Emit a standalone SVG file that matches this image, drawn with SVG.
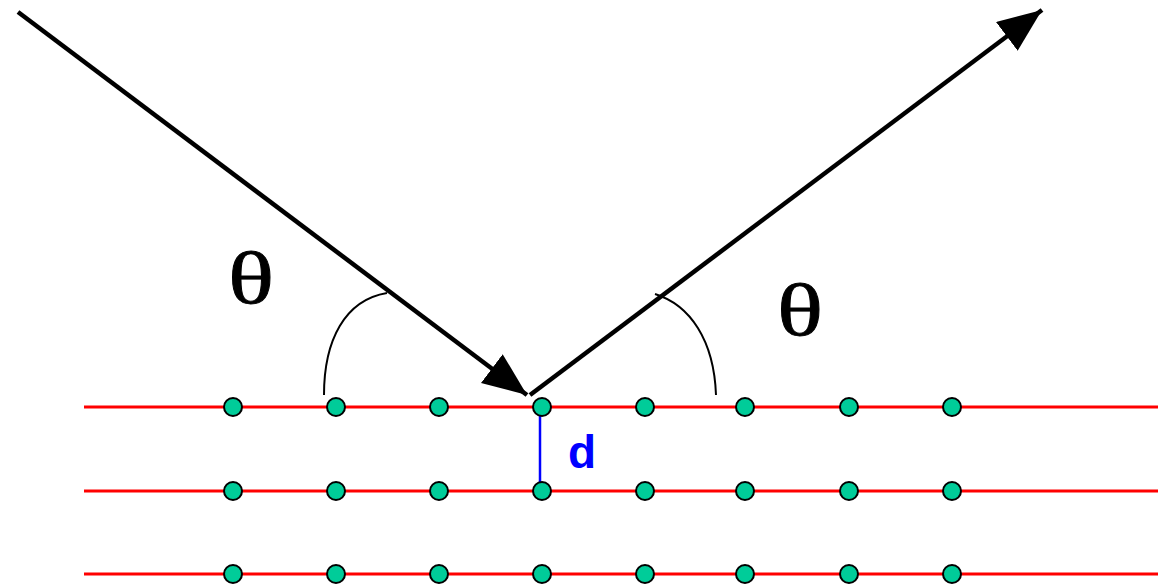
<svg xmlns="http://www.w3.org/2000/svg" width="1158" height="585" viewBox="0 0 1158 585">
<style>
.plane{stroke:#ff0000;stroke-width:3}
.atom{fill:#00cc99;stroke:#000;stroke-width:2}
.ray{stroke:#000;stroke-width:4.5;fill:none}
.arc{stroke:#000;stroke-width:2;fill:none}
.theta{font-family:"Liberation Serif",serif;font-size:74px;fill:#000;stroke:#000;stroke-width:0.8}
</style>
<defs>
<marker id="head" markerUnits="userSpaceOnUse" markerWidth="50" markerHeight="40" refX="44" refY="18" orient="auto">
<path d="M0,0 L44,18 L0,36 Z" fill="#000"/>
</marker>
</defs>
<rect width="1158" height="585" fill="#fff"/>
<g id="planes">
<line class="plane" x1="84" y1="407" x2="1158" y2="407"/>
<line class="plane" x1="84" y1="491" x2="1158" y2="491"/>
<line class="plane" x1="84" y1="574" x2="1158" y2="574"/>
</g>
<g id="spacing">
<line x1="540" y1="410" x2="540" y2="490" stroke="#0000ff" stroke-width="2.5"/>
<text x="568" y="468" font-family="Liberation Sans,sans-serif" font-weight="bold" font-size="46" fill="#0000ff">d</text>
</g>
<g id="atoms">
<g id="row1">
<circle class="atom" cx="233" cy="407" r="9"/><circle class="atom" cx="336" cy="407" r="9"/><circle class="atom" cx="439" cy="407" r="9"/><circle class="atom" cx="542" cy="407" r="9"/><circle class="atom" cx="645" cy="407" r="9"/><circle class="atom" cx="745" cy="407" r="9"/><circle class="atom" cx="849" cy="407" r="9"/><circle class="atom" cx="952" cy="407" r="9"/>
</g>
<g id="row2">
<circle class="atom" cx="233" cy="491" r="9"/><circle class="atom" cx="336" cy="491" r="9"/><circle class="atom" cx="439" cy="491" r="9"/><circle class="atom" cx="542" cy="491" r="9"/><circle class="atom" cx="645" cy="491" r="9"/><circle class="atom" cx="745" cy="491" r="9"/><circle class="atom" cx="849" cy="491" r="9"/><circle class="atom" cx="952" cy="491" r="9"/>
</g>
<g id="row3">
<circle class="atom" cx="233" cy="574" r="9"/><circle class="atom" cx="336" cy="574" r="9"/><circle class="atom" cx="439" cy="574" r="9"/><circle class="atom" cx="542" cy="574" r="9"/><circle class="atom" cx="645" cy="574" r="9"/><circle class="atom" cx="745" cy="574" r="9"/><circle class="atom" cx="849" cy="574" r="9"/><circle class="atom" cx="952" cy="574" r="9"/>
</g>
</g>
<g id="connectors">
<line class="ray" x1="18" y1="12" x2="527" y2="395" marker-end="url(#head)"/>
<line class="ray" x1="530" y1="395" x2="1042" y2="10" marker-end="url(#head)"/>
</g>
<g id="angles">
<path class="arc" d="M324,395 C324,340 345,300 387,293"/>
<path class="arc" d="M655,294 C690,305 714,340 716,395"/>
<text class="theta" transform="translate(228,303) scale(1.3,1)">θ</text>
<text class="theta" transform="translate(777,335) scale(1.3,1)">θ</text>
</g>
</svg>
